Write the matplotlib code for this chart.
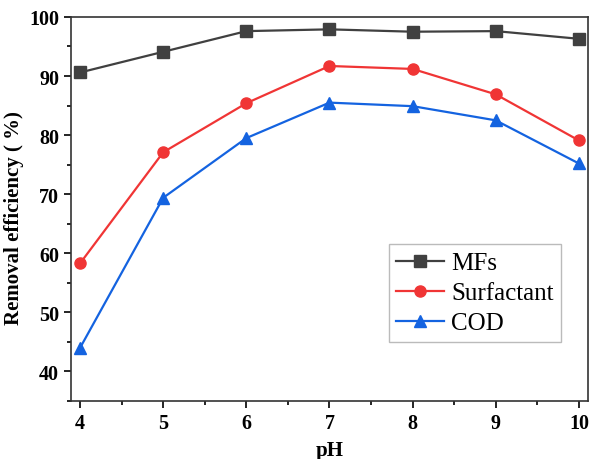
import matplotlib.pyplot as plt
from matplotlib.ticker import MultipleLocator

# Data
ph = [4, 5, 6, 7, 8, 9, 10]
mfs = [90.6, 94.1, 97.6, 97.9, 97.5, 97.6, 96.3]
surfactant = [58.3, 77.1, 85.4, 91.7, 91.2, 86.9, 79.1]
cod = [44.0, 69.4, 79.5, 85.5, 84.9, 82.5, 75.2]

plt.rcParams['font.family'] = ['Liberation Serif', 'DejaVu Serif']

fig = plt.figure(figsize=(5.91, 4.60), dpi=100)
ax = fig.add_axes([0.120, 0.126, 0.875, 0.835])

ax.plot(ph, mfs, color='#404040', marker='s', markersize=8, linewidth=1.6, label='MFs')
ax.plot(ph, surfactant, color='#f03535', marker='o', markersize=8, linewidth=1.6, label='Surfactant')
ax.plot(ph, cod, color='#1463e0', marker='^', markersize=9, linewidth=1.6, label='COD')

ax.set_xlim(3.89, 10.11)
ax.set_ylim(35, 100)
ax.xaxis.set_major_locator(MultipleLocator(1))
ax.xaxis.set_minor_locator(MultipleLocator(0.5))
ax.yaxis.set_major_locator(MultipleLocator(10))
ax.yaxis.set_minor_locator(MultipleLocator(5))
ax.tick_params(which='both', direction='out', top=False, right=False, width=1.2)
ax.tick_params(which='major', length=5, labelsize=14.5)
ax.tick_params(which='minor', length=3)
for lbl in ax.get_xticklabels() + ax.get_yticklabels():
    lbl.set_fontweight('bold')
for s in ax.spines.values():
    s.set_linewidth(1.2)
    s.set_color('#333333')

ax.set_xlabel('pH', fontsize=15, fontweight='bold', labelpad=5)
ax.set_ylabel('Removal efficiency ( %)', fontsize=15, fontweight='bold', labelpad=1)
ax.yaxis.set_label_coords(-0.09, 0.48)

leg = ax.legend(loc='lower right', bbox_to_anchor=(0.948, 0.154), fontsize=18,
                fancybox=False, edgecolor='#aaaaaa', handlelength=1.9,
                borderpad=0.3, labelspacing=0.3, handletextpad=0.3,
                borderaxespad=0)
leg.get_frame().set_linewidth(1.0)

fig.savefig('out.png', dpi=100)
